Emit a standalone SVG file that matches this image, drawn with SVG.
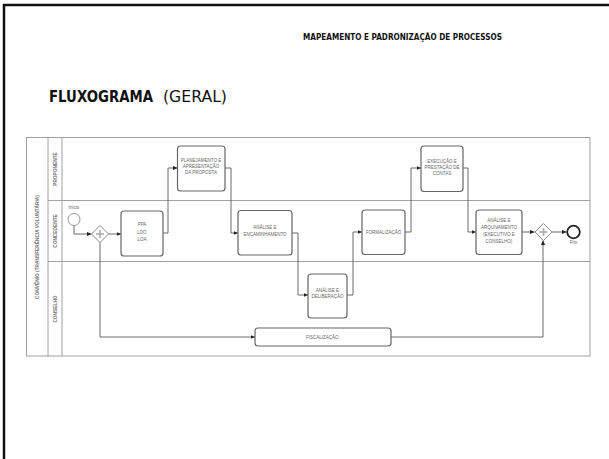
<svg xmlns="http://www.w3.org/2000/svg" width="609" height="459" viewBox="0 0 609 459">
  <style>
    .frame { fill: none; stroke: #111; stroke-width: 2.5; }
    .pool { fill: none; stroke: #a0a0a0; stroke-width: 1; }
    .task { fill: #fff; stroke: #666; stroke-width: 1.2; }
    .flow { fill: none; stroke: #5a5a5a; stroke-width: 0.9; stroke-linejoin: round; }
    .gw { fill: #fff; stroke: #888; stroke-width: 1; }
    .plus { stroke: #aaa; stroke-width: 1.6; }
    .lbl { font-family: "Liberation Sans", Arial, sans-serif; font-size: 4.5px; fill: #666; text-anchor: middle; }
    .lane { font-family: "Liberation Sans", Arial, sans-serif; font-size: 4.8px; font-weight: bold; fill: #777; text-anchor: middle; }
    .head { font-family: "DejaVu Sans", Verdana, sans-serif; font-weight: bold; fill: #111; }
  </style>
  <defs>
    <marker id="arrow" markerWidth="5" markerHeight="5" refX="4.5" refY="2.5" orient="auto" markerUnits="userSpaceOnUse">
      <path d="M0,0.4 L4.5,2.5 L0,4.6 Z" fill="#222"/>
    </marker>
  </defs>

  <rect width="609" height="459" fill="#fff"/>
  <!-- page frame -->
  <path class="frame" d="M4,462 V5 H612"/>

  <!-- page headings -->
  <text class="head" x="303" y="40" font-size="8.5" textLength="199" lengthAdjust="spacingAndGlyphs">MAPEAMENTO E PADRONIZAÇÃO DE PROCESSOS</text>
  <text class="head" x="49" y="102" font-size="15" textLength="104" lengthAdjust="spacingAndGlyphs">FLUXOGRAMA</text>
  <text x="163" y="102" font-family="DejaVu Sans, Verdana, sans-serif" font-size="15" fill="#111" textLength="64" lengthAdjust="spacingAndGlyphs">(GERAL)</text>

  <!-- pool and lanes -->
  <g id="pool">
    <rect class="pool" x="26.5" y="137.5" width="563.5" height="218.5"/>
    <line class="pool" x1="48" y1="137.5" x2="48" y2="356"/>
    <line class="pool" x1="62" y1="137.5" x2="62" y2="356"/>
    <line class="pool" x1="48" y1="200.5" x2="590" y2="200.5"/>
    <line class="pool" x1="48" y1="261.5" x2="590" y2="261.5"/>
    <text class="lane" transform="translate(38.5,247) rotate(-90)">CONVÊNIO (TRANSFERÊNCIA VOLUNTÁRIA)</text>
    <text class="lane" transform="translate(56.5,169) rotate(-90)">PROPONENTE</text>
    <text class="lane" transform="translate(56.5,231) rotate(-90)">CONCEDENTE</text>
    <text class="lane" transform="translate(56.5,309) rotate(-90)">CONSELHO</text>
  </g>

  <!-- sequence flows -->
  <g id="connectors">
    <path class="flow" d="M74,225.5 V234 H91.5" marker-end="url(#arrow)"/>
    <path class="flow" d="M108.5,234 H121" marker-end="url(#arrow)"/>
    <path class="flow" d="M163,233 H168 V168 H177.5" marker-end="url(#arrow)"/>
    <path class="flow" d="M225,168 H231 V233 H238" marker-end="url(#arrow)"/>
    <path class="flow" d="M292,233 H298 V295 H308" marker-end="url(#arrow)"/>
    <path class="flow" d="M347,295 H353 V232 H362" marker-end="url(#arrow)"/>
    <path class="flow" d="M405,232 H411 V168 H421" marker-end="url(#arrow)"/>
    <path class="flow" d="M463,168 H468 V232 H476" marker-end="url(#arrow)"/>
    <path class="flow" d="M522,232 H534.5" marker-end="url(#arrow)"/>
    <path class="flow" d="M552,232 H566.5" marker-end="url(#arrow)"/>
    <path class="flow" d="M100,242.5 V337 H255" marker-end="url(#arrow)"/>
    <path class="flow" d="M391,337 H543 V240.5" marker-end="url(#arrow)"/>
  </g>

  <!-- start event -->
  <g id="inicio">
    <circle cx="74" cy="219.5" r="6" fill="#fff" stroke="#999" stroke-width="1"/>
    <text class="lbl" x="74" y="209">Início</text>
  </g>

  <!-- parallel gateway (split) -->
  <g id="gateway-split">
    <path class="gw" d="M100,225.5 L108.5,234 L100,242.5 L91.5,234 Z"/>
    <line class="plus" x1="96" y1="234" x2="104" y2="234"/>
    <line class="plus" x1="100" y1="230" x2="100" y2="238"/>
  </g>

  <g id="ppa-ldo-loa">
    <rect class="task" x="121" y="211" width="42" height="45" rx="3"/>
    <text class="lbl" x="142" y="226">PPA</text>
    <text class="lbl" x="142" y="233.5">LDO</text>
    <text class="lbl" x="142" y="241">LOA</text>
  </g>

  <g id="planejamento">
    <rect class="task" x="177.5" y="146" width="47.5" height="45" rx="3"/>
    <text class="lbl" x="201" y="162">PLANEJAMENTO E</text>
    <text class="lbl" x="201" y="168">APRESENTAÇÃO</text>
    <text class="lbl" x="201" y="174">DA PROPOSTA</text>
  </g>

  <g id="analise-encaminhamento">
    <rect class="task" x="238" y="210.5" width="54" height="44.5" rx="3"/>
    <text class="lbl" x="265" y="229">ANÁLISE E</text>
    <text class="lbl" x="265" y="235.5">ENCAMINHAMENTO</text>
  </g>

  <g id="analise-deliberacao">
    <rect class="task" x="308" y="274" width="39" height="44" rx="3"/>
    <text class="lbl" x="327.5" y="292">ANÁLISE E</text>
    <text class="lbl" x="327.5" y="298">DELIBERAÇÃO</text>
  </g>

  <g id="formalizacao">
    <rect class="task" x="362" y="210" width="43" height="44.5" rx="3"/>
    <text class="lbl" x="383.5" y="233.5">FORMALIZAÇÃO</text>
  </g>

  <g id="execucao">
    <rect class="task" x="421" y="146" width="42" height="45.5" rx="3"/>
    <text class="lbl" x="442" y="162.5">EXECUÇÃO E</text>
    <text class="lbl" x="442" y="168.5">PRESTAÇÃO DE</text>
    <text class="lbl" x="442" y="174.5">CONTAS</text>
  </g>

  <g id="analise-arquivamento">
    <rect class="task" x="476" y="210" width="46" height="44.5" rx="3"/>
    <text class="lbl" x="499" y="222">ANÁLISE E</text>
    <text class="lbl" x="499" y="229">ARQUIVAMENTO</text>
    <text class="lbl" x="499" y="236">(EXECUTIVO E</text>
    <text class="lbl" x="499" y="243">CONSELHO)</text>
  </g>

  <g id="fiscalizacao">
    <rect class="task" x="255" y="328" width="136" height="18" rx="3"/>
    <text class="lbl" x="323" y="338.5">FISCALIZAÇÃO.</text>
  </g>

  <!-- parallel gateway (join) -->
  <g id="gateway-join">
    <path class="gw" d="M543.5,223.5 L552,232 L543.5,240.5 L535,232 Z"/>
    <line class="plus" x1="539.5" y1="232" x2="547.5" y2="232"/>
    <line class="plus" x1="543.5" y1="228" x2="543.5" y2="236"/>
  </g>

  <!-- end event -->
  <g id="fim">
    <circle cx="573.5" cy="232" r="6.3" fill="#fff" stroke="#222" stroke-width="1.8"/>
    <text class="lbl" x="573.5" y="244">Fim</text>
  </g>
</svg>
